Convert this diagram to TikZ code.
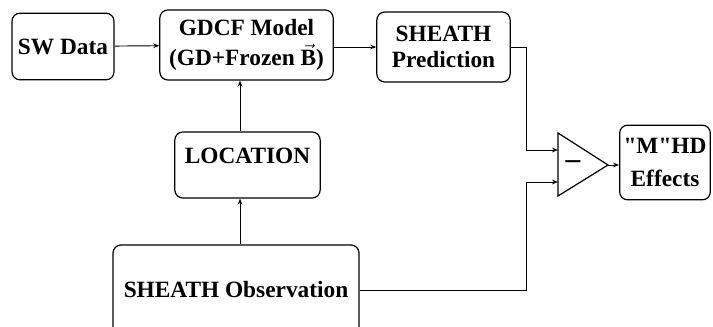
\documentclass[tikz,border=0pt]{standalone}
\usepackage{fontspec}
\setmainfont{Liberation Serif}[Ligatures=TeXOff]
\usetikzlibrary{arrows.meta, positioning, calc}

\begin{document}
\begin{tikzpicture}[x=0.75pt, y=-0.75pt,
  >={Stealth[length=4.5pt, width=3.5pt]},
  box/.style={draw, line width=0.9pt, rounded corners=6pt, align=center, inner sep=2pt,
    font=\fontsize{17.5}{20}\bfseries\selectfont},
  link/.style={line width=0.7pt}]

% Frame
\useasboundingbox (0,0) rectangle (713,327);
\clip (0,0) rectangle (713,327);

% Blocks
\node[box, minimum width=76.5pt, minimum height=50pt] (sw) at (63,46.5) {SW Data};
\node[box, minimum width=130pt, minimum height=52.5pt,
  font=\fontsize{17.5}{23}\bfseries\selectfont] (gdcf) at (246.5,45)
  {GDCF Model\\(GD+Frozen $\vec{\textbf{B}}$)};
\node[box, minimum width=100pt, minimum height=52.5pt] (pred) at (443.5,47)
  {SHEATH\\Prediction};
\node[box, minimum width=109pt, minimum height=49.5pt, text height=11pt, text depth=13pt]
  (loc) at (247.5,165) {LOCATION};
\node[box, minimum width=184.5pt, minimum height=67.5pt] (obs) at (236,290)
  {SHEATH Observation};
\node[box, minimum width=68pt, minimum height=56pt,
  font=\fontsize{17.5}{24.5}\bfseries\selectfont] (mhd) at (665,162.5)
  {"M"HD\\Effects};

% Difference amplifier
\coordinate (tt) at (558,133);
\coordinate (tb) at (558,196);
\coordinate (tip) at (608,165);
\draw[line width=0.9pt, line join=miter] (tt) -- (tip) -- (tb) -- cycle;
\node[font=\fontsize{22}{22}\bfseries\selectfont, inner sep=0pt] (minus) at (573,165) {\textendash};
\coordinate (in1) at (558,150);
\coordinate (in2) at (558,182);
\coordinate (bend) at (526,0);
\coordinate (spine) at (240,0);

% Connections
\draw[link,->] (sw) -- (gdcf);
\draw[link,->] (gdcf.east |- pred) -- (pred);
\draw[link,->] (pred.east) -| (bend |- in1) -- (in1);
\draw[link,->] (obs.east) -| (bend |- in2) -- (in2);
\draw[link,->] (tip) -- (tip -| mhd.west);
\draw[link,->] (obs.north -| spine) -- (loc.south -| spine);
\draw[link,->] (loc.north -| spine) -- (gdcf.south -| spine);

\end{tikzpicture}
\end{document}
